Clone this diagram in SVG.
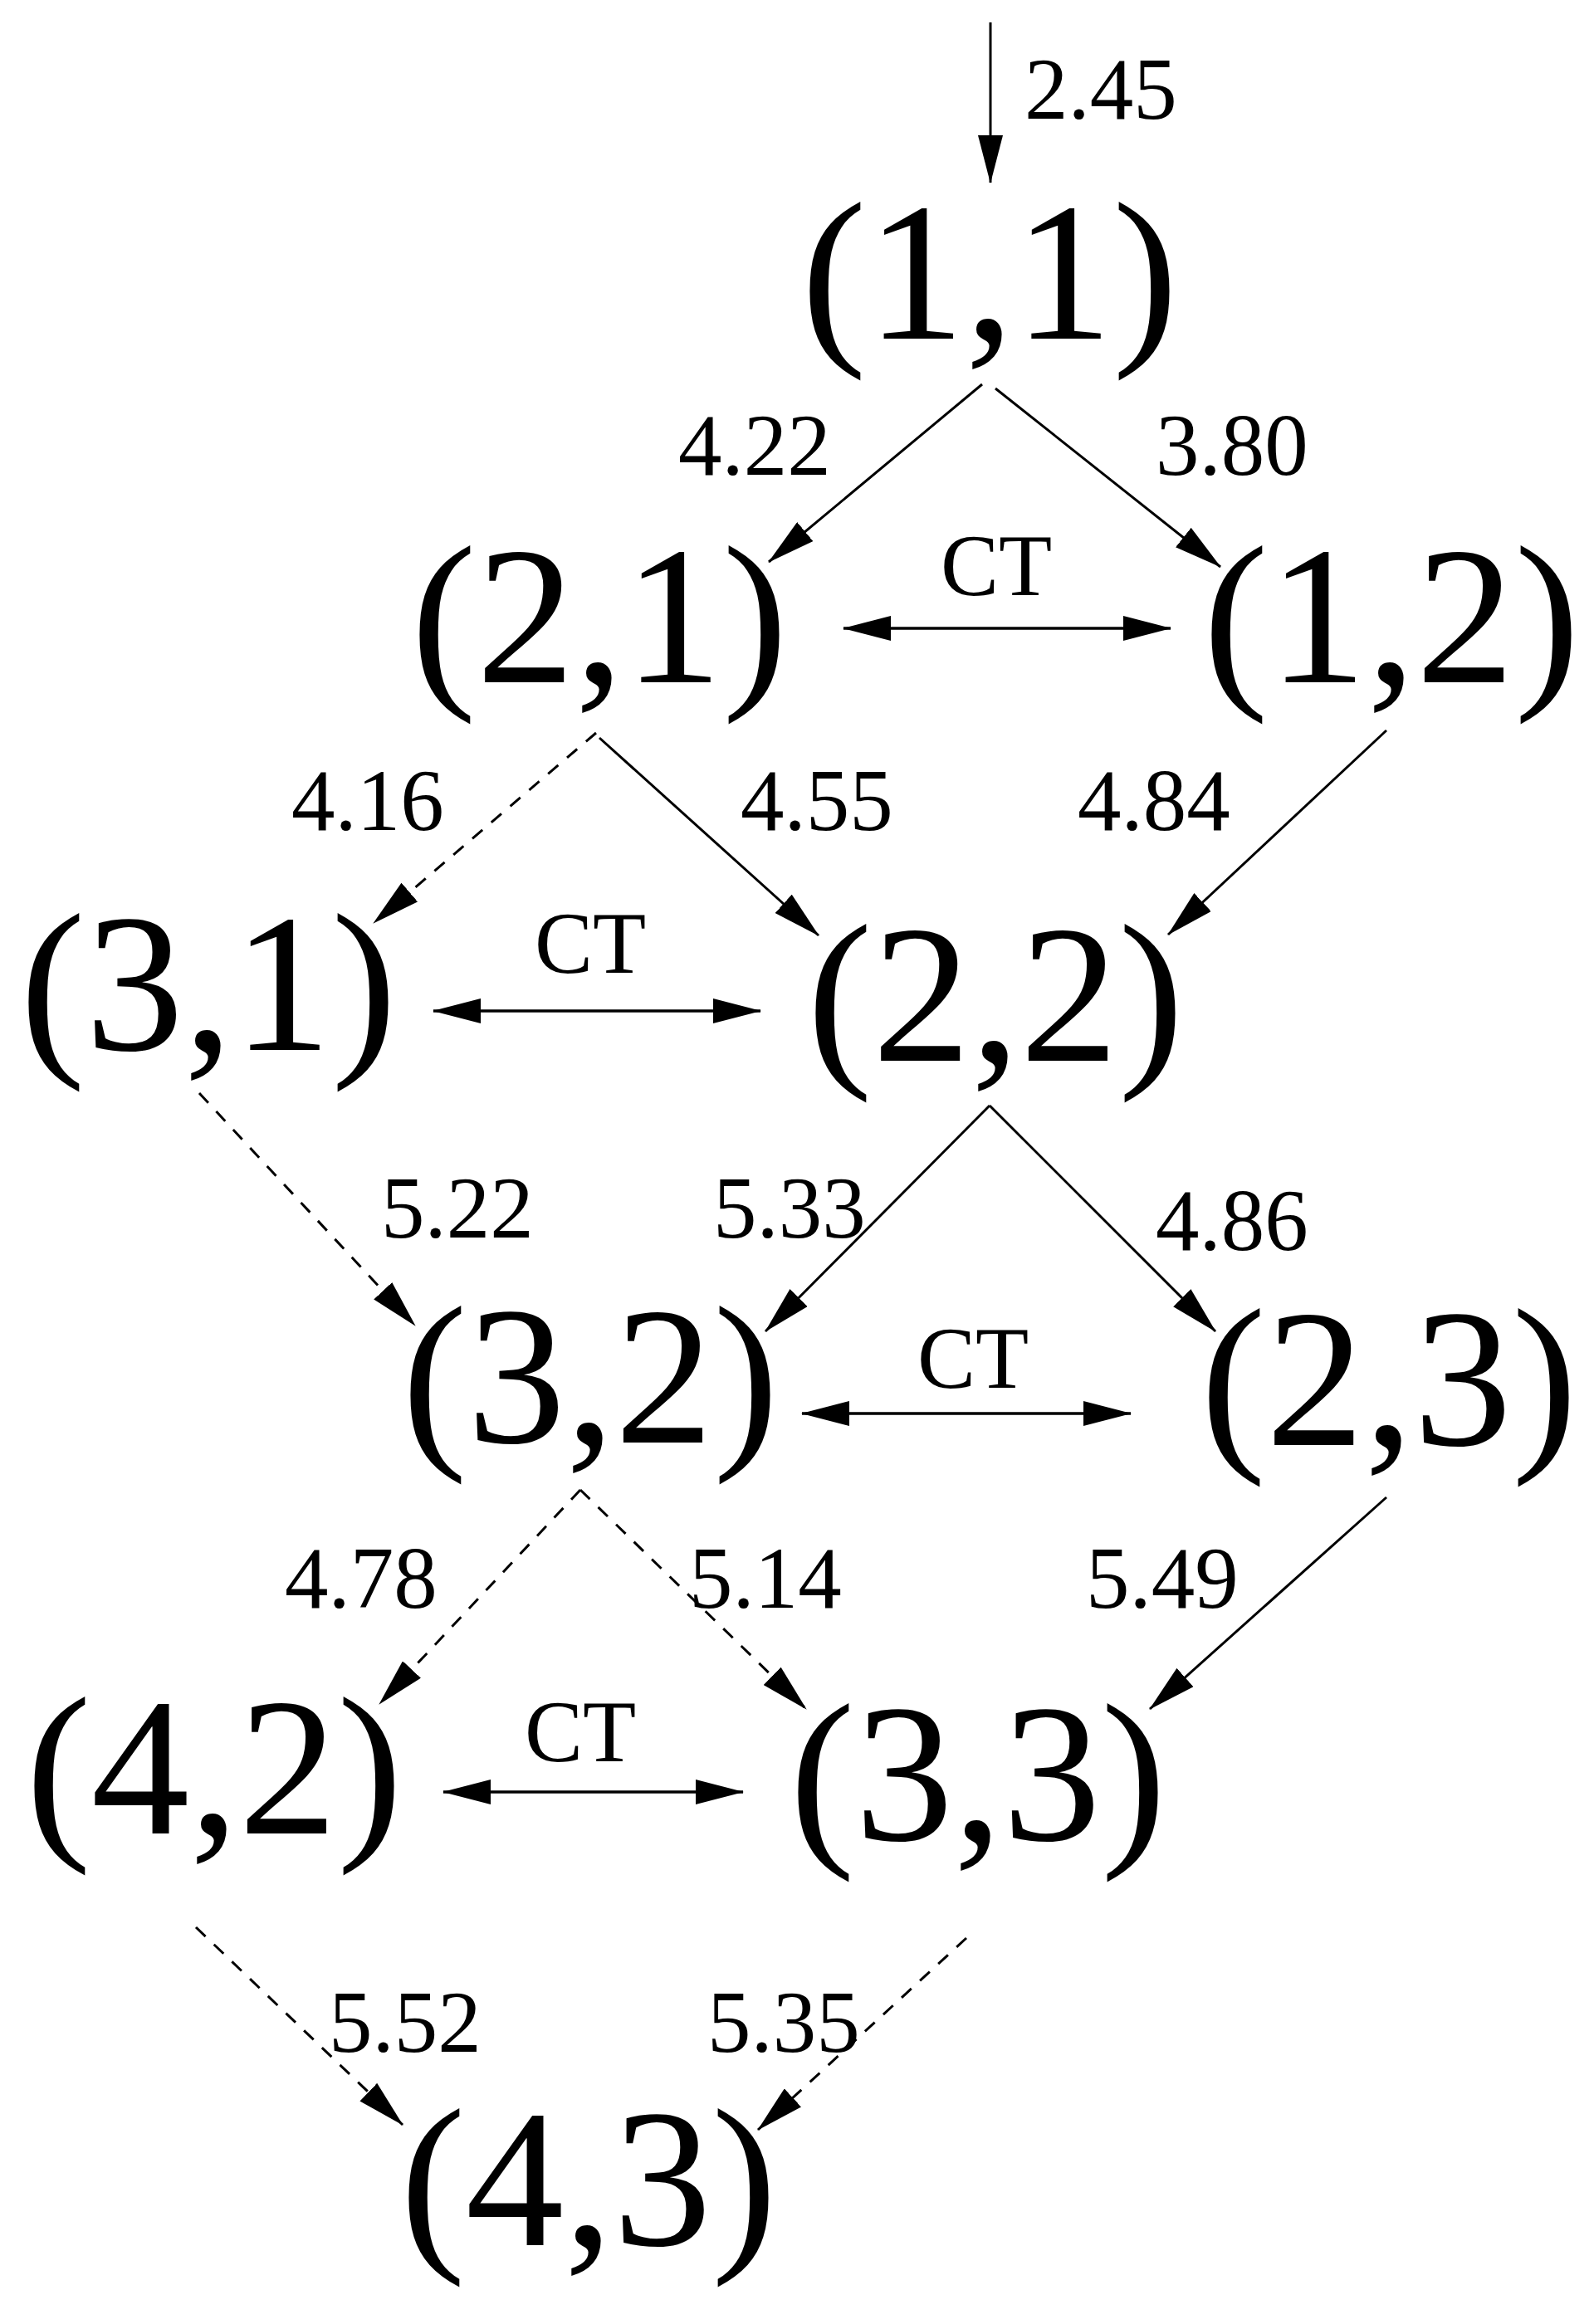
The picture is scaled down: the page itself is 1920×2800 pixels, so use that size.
<svg xmlns="http://www.w3.org/2000/svg" width="1920" height="2800" viewBox="0 0 1920 2800">
<style>
.node{font-family:"Liberation Serif","Times New Roman",serif;font-size:237px;text-anchor:middle;fill:#000}
.lbl{font-family:"Liberation Serif","Times New Roman",serif;font-size:105px;fill:#000}
.ct{font-family:"Liberation Serif","Times New Roman",serif;font-size:105px;text-anchor:middle;fill:#000}
.e{stroke:#000;stroke-width:3;fill:none;marker-end:url(#ah)}
.d{stroke-dasharray:16 14}
.bi{stroke:#000;stroke-width:3.5;fill:none;marker-end:url(#ah);marker-start:url(#ah)}
</style>
<defs>
<marker id="ah" viewBox="0 0 58 30" refX="57" refY="15" markerWidth="58" markerHeight="30" markerUnits="userSpaceOnUse" orient="auto-start-reverse">
<path d="M0,0 L58,15 L0,30 z" fill="#000"/>
</marker>
</defs>
<rect width="1920" height="2800" fill="#fff"/>
<g id="connectors">
<line class="e" x1="1193" y1="27" x2="1193" y2="220"/>
<line class="e" x1="1183" y1="463" x2="926" y2="677"/>
<line class="e" x1="1199" y1="468" x2="1470" y2="683"/>
<line class="bi" x1="1016" y1="757" x2="1410" y2="757"/>
<line class="e d" x1="718" y1="883" x2="450" y2="1112"/>
<line class="e" x1="722" y1="889" x2="986" y2="1127"/>
<line class="e" x1="1670" y1="880" x2="1407" y2="1126"/>
<line class="bi" x1="522" y1="1218" x2="916" y2="1218"/>
<line class="e d" x1="240" y1="1317" x2="500" y2="1597"/>
<line class="e" x1="1192" y1="1332" x2="922" y2="1604"/>
<line class="e" x1="1192" y1="1332" x2="1464" y2="1604"/>
<line class="bi" x1="966" y1="1703" x2="1362" y2="1703"/>
<line class="e d" x1="699" y1="1795" x2="457" y2="2053"/>
<line class="e d" x1="699" y1="1795" x2="971" y2="2059"/>
<line class="e" x1="1670" y1="1804" x2="1385" y2="2059"/>
<line class="bi" x1="534" y1="2159" x2="895" y2="2159"/>
<line class="e d" x1="236" y1="2322" x2="485" y2="2560"/>
<line class="e d" x1="1164" y1="2335" x2="913" y2="2566"/>
<text class="lbl" x="1234" y="143">2.45</text>
<text class="lbl" x="817" y="572">4.22</text>
<text class="lbl" x="1392" y="572">3.80</text>
<text class="ct" x="1200" y="717">CT</text>
<text class="lbl" x="351" y="1000">4.16</text>
<text class="lbl" x="892" y="1000">4.55</text>
<text class="lbl" x="1298" y="1000">4.84</text>
<text class="ct" x="711" y="1172">CT</text>
<text class="lbl" x="459" y="1491">5.22</text>
<text class="lbl" x="859" y="1491">5.33</text>
<text class="lbl" x="1392" y="1506">4.86</text>
<text class="ct" x="1172" y="1672">CT</text>
<text class="lbl" x="343" y="1937">4.78</text>
<text class="lbl" x="830" y="1937">5.14</text>
<text class="lbl" x="1308" y="1937">5.49</text>
<text class="ct" x="699" y="2122">CT</text>
<text class="lbl" x="396" y="2472">5.52</text>
<text class="lbl" x="852" y="2472">5.35</text>
</g>
<g id="n11"><text class="node" x="1192" y="408">(1,1)</text></g>
<g id="n21"><text class="node" x="722" y="822">(2,1)</text></g>
<g id="n12"><text class="node" x="1676" y="822">(1,2)</text></g>
<g id="n31"><text class="node" x="251" y="1265">(3,1)</text></g>
<g id="n22"><text class="node" x="1199" y="1278">(2,2)</text></g>
<g id="n32"><text class="node" x="711" y="1738">(3,2)</text></g>
<g id="n23"><text class="node" x="1673" y="1741">(2,3)</text></g>
<g id="n42"><text class="node" x="258" y="2209">(4,2)</text></g>
<g id="n33"><text class="node" x="1178" y="2217">(3,3)</text></g>
<g id="n43"><text class="node" x="709" y="2705">(4,3)</text></g>
</svg>
